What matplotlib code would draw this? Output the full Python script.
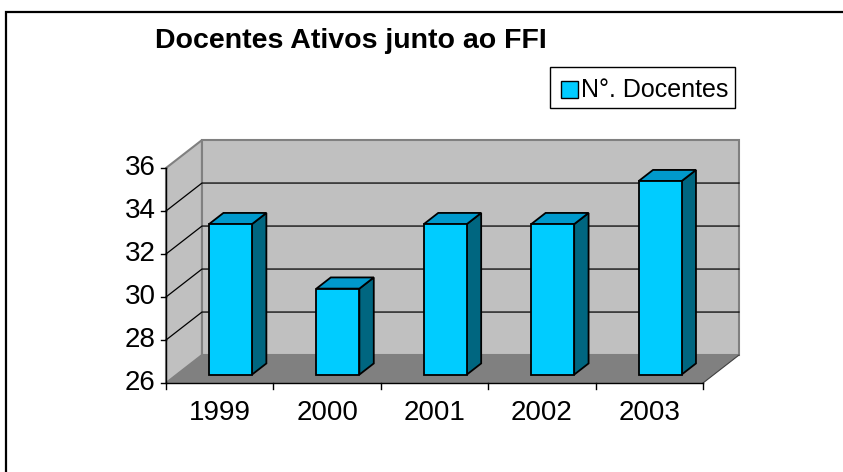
import matplotlib
matplotlib.use("Agg")
import matplotlib.pyplot as plt
from matplotlib.patches import Polygon, Rectangle

plt.rcParams['font.family'] = ['Liberation Sans', 'DejaVu Sans']

# dados
anos = ['1999', '2000', '2001', '2002', '2003']
docentes = [33, 30, 33, 33, 35]
y_ticks = [26, 28, 30, 32, 34, 36]
titulo = 'Docentes Ativos junto ao FFI'
serie = 'N°. Docentes'

# cores estilo Excel
cor_frente = '#00CCFF'
cor_lado = '#006680'
cor_topo = '#0099CC'
cor_parede = '#C0C0C0'
cor_chao = '#808080'

W, H = 843, 472
fig = plt.figure(figsize=(W / 100, H / 100), dpi=100)

# plano frontal em pixels: x 166..703, y 383 (26) .. 168 (36)
ax = fig.add_axes([166 / W, (H - 383) / H, (703 - 166) / W, (383 - 168) / H])
n = len(anos)
ymin, ymax = y_ticks[0], y_ticks[-1]
ax.set_xlim(0, n)
ax.set_ylim(ymin, ymax)
ax.axis('off')

# profundidade (em unidades de dados)
dx = 0.335
dy = 1.30

def poly(pts, fc, ec='none', lw=1.0, z=1):
    ax.add_patch(Polygon(pts, closed=True, facecolor=fc, edgecolor=ec,
                         linewidth=lw, zorder=z, clip_on=False))

# paredes e chao
poly([(0, ymin), (0, ymax), (dx, ymax + dy), (dx, ymin + dy)], cor_parede, '#808080', 1.5, 1)
poly([(dx, ymin + dy), (n + dx, ymin + dy), (n + dx, ymax + dy), (dx, ymax + dy)],
     cor_parede, '#808080', 1.5, 1)
poly([(0, ymin), (n, ymin), (n + dx, ymin + dy), (dx, ymin + dy)], cor_chao, 'none', 1, 2)
ax.plot([n, n + dx], [ymin, ymin + dy], color='#404040', lw=0.8, zorder=2, clip_on=False)

# linhas de grade
for v in y_ticks[1:-1]:
    ax.plot([0, dx, n + dx], [v, v + dy, v + dy], color='black', lw=0.9,
            zorder=3, clip_on=False)

# eixos
ax.plot([0, 0], [ymin, ymax], color='black', lw=1.0, zorder=4, clip_on=False)
ax.plot([0, n], [ymin, ymin], color='black', lw=1.0, zorder=4, clip_on=False)
for v in y_ticks:
    ax.plot([-0.05, 0], [v, v], color='black', lw=1.0, zorder=4, clip_on=False)
    ax.text(-0.095, v, str(v), ha='right', va='center', fontsize=20, zorder=4)
for i in range(n + 1):
    ax.plot([i, i], [ymin, ymin - 0.28], color='black', lw=1.0, zorder=4, clip_on=False)
for i, a in enumerate(anos):
    ax.text(i + 0.5, ymin - 0.8, a, ha='center', va='top', fontsize=20, zorder=4)

# barras 3D
larg = 0.4
f0, f1 = 0.3, 0.7
for i, v in enumerate(docentes):
    x0 = i + (1 - larg) / 2 + f0 * dx
    y0 = ymin + f0 * dy
    x1 = x0 + larg
    yt = v + f0 * dy
    ddx = (f1 - f0) * dx
    ddy = (f1 - f0) * dy
    z = 5 + i
    poly([(x1, y0), (x1 + ddx, y0 + ddy), (x1 + ddx, yt + ddy), (x1, yt)], cor_lado, 'black', 1.3, z)
    poly([(x0, yt), (x1, yt), (x1 + ddx, yt + ddy), (x0 + ddx, yt + ddy)], cor_topo, 'black', 1.3, z)
    poly([(x0, y0), (x1, y0), (x1, yt), (x0, yt)], cor_frente, 'black', 1.3, z)

# titulo
fig.text(351 / W, (H - 48) / H, titulo, ha='center', va='baseline',
         fontsize=20.5, fontweight='bold')

# legenda
fig.patches.append(Rectangle((550 / W, (H - 108) / H), 185 / W, 41 / H,
                             transform=fig.transFigure, facecolor='white',
                             edgecolor='black', linewidth=1.0))
fig.patches.append(Rectangle((561 / W, (H - 98) / H), 17 / W, 17 / H,
                             transform=fig.transFigure, facecolor=cor_frente,
                             edgecolor='black', linewidth=1.0))
fig.text(581 / W, (H - 97) / H, serie, ha='left', va='baseline', fontsize=18)

# borda externa
fig.patches.append(Rectangle((5.5 / W, -0.2), 1.2, (H - 12) / H + 0.2,
                             transform=fig.transFigure, facecolor='none',
                             edgecolor='black', linewidth=1.6))

fig.savefig('out.png', dpi=100)
